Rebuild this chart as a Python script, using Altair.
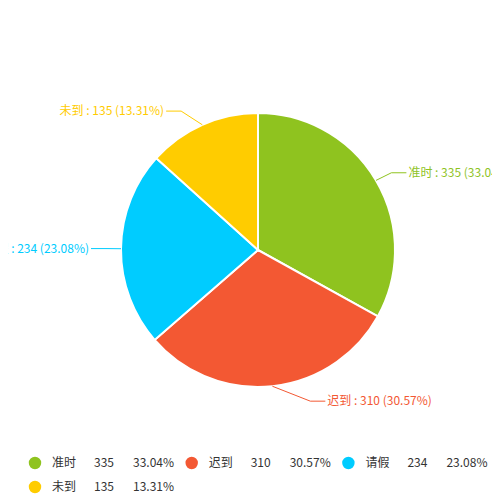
import altair as alt
import pandas as pd

names = ["准时", "迟到", "请假", "未到"]
values = [335, 310, 234, 135]
colors = ["#8fc31f", "#f35833", "#00ccff", "#ffcc00"]

df = pd.DataFrame({"idx": range(len(names)), "name": names, "value": values})

FONT = "Noto Sans CJK SC"
R = 137  # pie radius
color_scale = alt.Scale(domain=names, range=colors)

base = alt.Chart(df).transform_joinaggregate(
    total="sum(value)"
).transform_window(
    cum="sum(value)", sort=[alt.SortField("idx")]
).transform_calculate(
    pct="format(datum.value / datum.total * 100, '.2f') + '%'",
    mid="(datum.cum - datum.value / 2) / datum.total * 2 * PI",
)

pie = alt.Chart(df).mark_arc(radius=R, stroke="white", strokeWidth=2).encode(
    theta=alt.Theta("value:Q", stack=True),
    color=alt.Color("name:N", scale=color_scale, legend=None),
    order=alt.Order("idx:Q"),
    x=alt.value(250),
    y=alt.value(242),
)

# leader line geometry (label ends pushed onto an ellipse, like the original)
geo = base.transform_calculate(
    dir="sin(datum.mid) >= 0 ? 1 : -1",
    p1x="250 + 137 * sin(datum.mid)",
    p1y="242 - 137 * cos(datum.mid)",
    p2y="242 - 152 * cos(datum.mid)",
).transform_calculate(
    ex="sqrt(max(0, 1 - pow(abs(datum.p2y - 242) / 161, 2))) * 152",
).transform_calculate(
    p3x="250 + datum.dir * (datum.ex + 15)",
).transform_calculate(
    p2x="datum.p3x - datum.dir * 15",
    tx="datum.p3x + datum.dir * 2",
    label="datum.name + ' : ' + datum.value + ' (' + datum.pct + ')'",
)

seg1 = geo.mark_rule(strokeWidth=1).encode(
    x=alt.X("p1x:Q", scale=None), y=alt.Y("p1y:Q", scale=None),
    x2="p2x:Q", y2="p2y:Q",
    color=alt.Color("name:N", scale=color_scale, legend=None),
)
seg2 = geo.mark_rule(strokeWidth=1).encode(
    x=alt.X("p2x:Q", scale=None), y=alt.Y("p2y:Q", scale=None),
    x2="p3x:Q", y2="p2y:Q",
    color=alt.Color("name:N", scale=color_scale, legend=None),
)
lab_r = geo.transform_filter("datum.dir > 0").mark_text(
    align="left", baseline="middle", font=FONT, fontSize=12
).encode(
    x=alt.X("tx:Q", scale=None), y=alt.Y("p2y:Q", scale=None),
    text="label:N",
    color=alt.Color("name:N", scale=color_scale, legend=None),
)
lab_l = geo.transform_filter("datum.dir < 0").mark_text(
    align="right", baseline="middle", font=FONT, fontSize=12
).encode(
    x=alt.X("tx:Q", scale=None), y=alt.Y("p2y:Q", scale=None),
    text="label:N",
    color=alt.Color("name:N", scale=color_scale, legend=None),
)

# bottom legend: 3 items per row
leg = base.transform_calculate(
    lx="27 + (datum.idx % 3) * 156.7",
    ly="455 + floor(datum.idx / 3) * 24",
)
leg_dot = leg.mark_point(shape="circle", filled=True, size=154, opacity=1).encode(
    x=alt.X("lx:Q", scale=None), y=alt.Y("ly:Q", scale=None),
    color=alt.Color("name:N", scale=color_scale, legend=None),
)
leg_name = leg.transform_calculate(tx="datum.lx + 17").mark_text(
    align="left", baseline="middle", font=FONT, fontSize=12, color="#333"
).encode(x=alt.X("tx:Q", scale=None), y=alt.Y("ly:Q", scale=None), text="name:N")
leg_val = leg.transform_calculate(tx="datum.lx + 59").mark_text(
    align="left", baseline="middle", font=FONT, fontSize=12, color="#333"
).encode(x=alt.X("tx:Q", scale=None), y=alt.Y("ly:Q", scale=None), text="value:N")
leg_pct = leg.transform_calculate(tx="datum.lx + 98").mark_text(
    align="left", baseline="middle", font=FONT, fontSize=12, color="#333"
).encode(x=alt.X("tx:Q", scale=None), y=alt.Y("ly:Q", scale=None), text="pct:N")

chart = alt.layer(
    pie, seg1, seg2, lab_r, lab_l, leg_dot, leg_name, leg_val, leg_pct
).properties(
    width=484, height=490, padding=0,
    autosize=alt.AutoSizeParams(type="none"),
).configure_view(stroke=None)

chart.save("out.html", embed_options={"renderer": "svg", "actions": False})
